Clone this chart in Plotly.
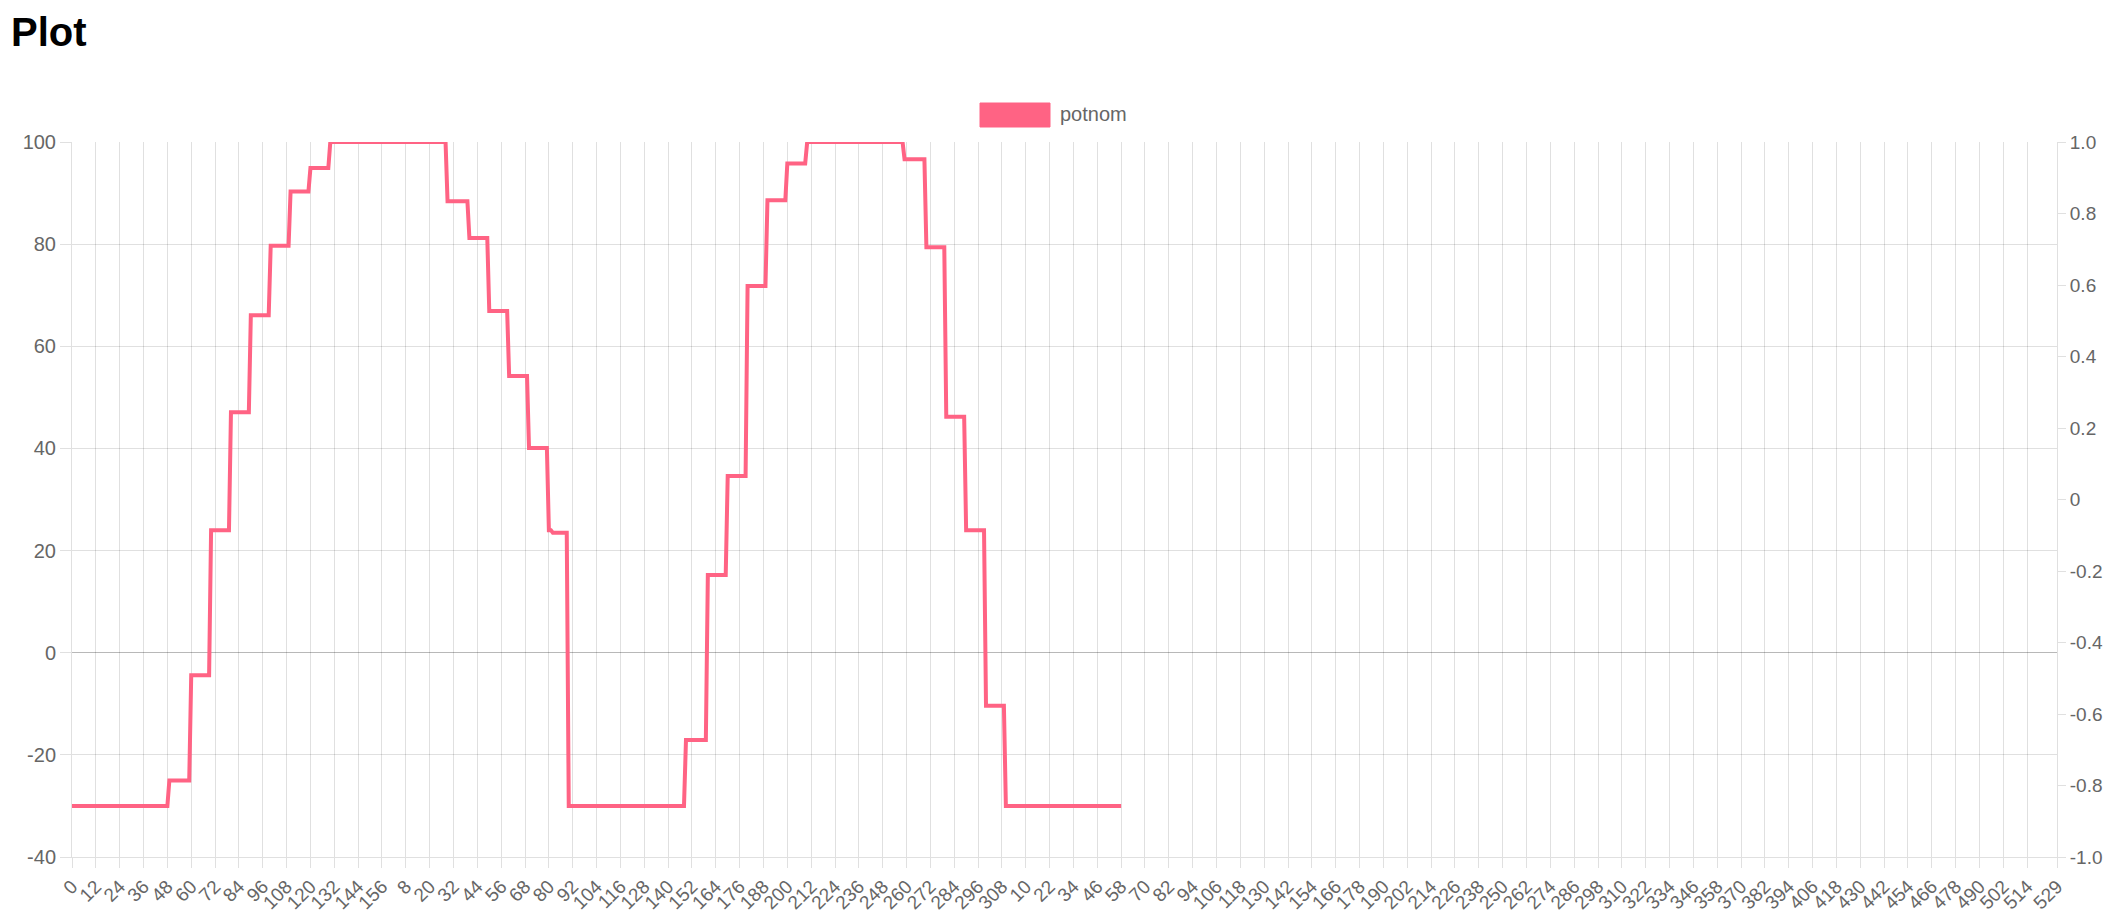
import plotly.graph_objects as go

# ---- data -------------------------------------------------------------
series_name = "potnom"
# x-axis category labels come in three consecutive counting runs
label_segment_lengths = [160, 310, 530]
# step levels of the series (in order) and how many samples each level lasts
step_levels = [-30, -25, -4.4, 24.0, 47.1, 66.1, 79.7, 90.3, 94.9, 100,
               88.4, 81.2, 66.9, 54.2, 40.1, 24.0, 23.5, -30,
               -17.1, 15.2, 34.6, 71.8, 88.6, 95.8, 100,
               96.6, 79.4, 46.2, 24.0, -10.4, -30]
step_run_lengths = [49, 11, 10, 10, 10, 10, 10, 10, 10, 59,
                    11, 10, 10, 10, 10, 2, 8, 59,
                    11, 10, 10, 10, 10, 10, 49,
                    11, 10, 10, 10, 10, 59]
left_tick_values = [-40, -20, 0, 20, 40, 60, 80, 100]
left_tick_text = ["-40", "-20", "0", "20", "40", "60", "80", "100"]
right_tick_values = [-1.0, -0.8, -0.6, -0.4, -0.2, 0.0, 0.2, 0.4, 0.6, 0.8, 1.0]
right_tick_text = ["-1.0", "-0.8", "-0.6", "-0.4", "-0.2", "0", "0.2", "0.4", "0.6", "0.8", "1.0"]

# ---- build -------------------------------------------------------------
labels = []
for n in label_segment_lengths:
    labels.extend(str(k) for k in range(n))

values = []
for lvl, n in zip(step_levels, step_run_lengths):
    values.extend([lvl] * n)
x_idx = list(range(len(values)))

n_cat = len(labels)
x_tickvals = list(range(0, n_cat - 15, 12)) + [n_cat - 1]
x_ticktext = [labels[i] for i in x_tickvals]

FONT = "Liberation Sans, Arial, Helvetica, sans-serif"
GRID = "rgba(0,0,0,0.12)"
TXT = "#666666"
RED = "rgb(255,99,132)"

fig = go.Figure()
fig.add_trace(go.Scatter(x=x_idx, y=values, mode="lines", name=series_name,
                         line=dict(color=RED, width=4), showlegend=False))
fig.add_trace(go.Scatter(x=[None], y=[None], yaxis="y2", showlegend=False,
                         hoverinfo="skip"))

# page body has an 8px margin; the figure is sized/positioned for that
OFF = 8
W, H = 2113 - OFF, 918 - 2 * OFF
ml, mr, mt, mb = 64, 56, 134, 53
pw, ph = W - ml - mr, H - mt - mb


def px_x(p):
    return (p - OFF - ml) / pw


def px_y(p):
    return 1 - (p - OFF - mt) / ph


fig.update_layout(
    width=W, height=H,
    margin=dict(l=ml, r=mr, t=mt, b=mb, autoexpand=False),
    paper_bgcolor="white", plot_bgcolor="white",
    font=dict(family=FONT, color=TXT, size=19),
    title=dict(text="<b>Plot</b>", x=(11 - OFF) / W, xanchor="left", xref="container",
               y=1 - (32 - OFF) / H, yanchor="middle", yref="container",
               font=dict(family=FONT, size=40, color="black")),
    xaxis=dict(range=[0, n_cat - 1], tickmode="array", tickvals=x_tickvals,
               ticktext=x_ticktext, tickangle=-45, showgrid=True, gridcolor=GRID,
               gridwidth=1, ticks="outside", ticklen=10, tickcolor=GRID,
               showline=True, linecolor=GRID, zeroline=False,
               tickfont=dict(size=19, color=TXT)),
    yaxis=dict(range=[-40, 100], tickmode="array", tickvals=left_tick_values,
               ticktext=left_tick_text, showgrid=True, gridcolor=GRID,
               zeroline=True, zerolinecolor="rgba(0,0,0,0.28)", zerolinewidth=1,
               showline=True, linecolor=GRID, ticks="outside", ticklen=11,
               tickcolor=GRID, tickfont=dict(size=20, color=TXT)),
    yaxis2=dict(range=[-1, 1], overlaying="y", side="right", tickmode="array",
                tickvals=right_tick_values, ticktext=right_tick_text,
                showgrid=False, zeroline=False, showline=True, linecolor=GRID,
                ticks="outside", ticklen=8, tickcolor=GRID,
                tickfont=dict(size=19, color=TXT)),
    showlegend=False,
)

# legend drawn as a swatch + label (Chart.js style)
fig.add_shape(type="rect", xref="paper", yref="paper",
              x0=px_x(980), x1=px_x(1050), y0=px_y(127), y1=px_y(103),
              fillcolor=RED, line=dict(color=RED, width=1))
fig.add_annotation(xref="paper", yref="paper", x=px_x(1058), y=px_y(114),
                   xanchor="left", yanchor="middle", text=series_name,
                   showarrow=False, font=dict(size=20, color=TXT, family=FONT))

fig.write_html("out.html")
